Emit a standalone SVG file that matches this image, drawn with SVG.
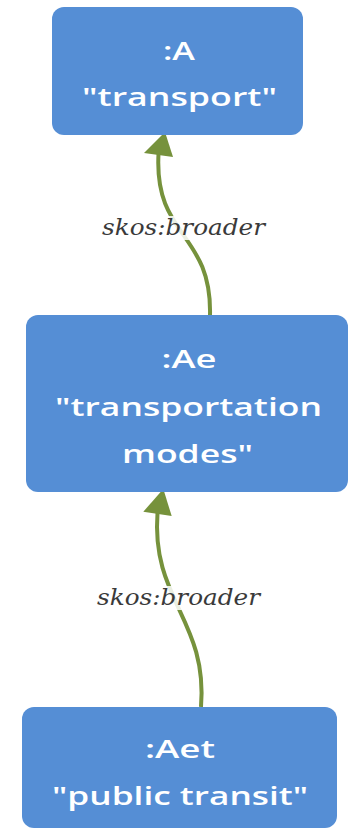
<svg xmlns="http://www.w3.org/2000/svg" width="349" height="830" viewBox="0 0 349 830">
<style>
.box{fill:#558ED5}
.nt{font-family:"Open Sans","Noto Sans",sans-serif;font-size:26px;font-weight:600;fill:#ffffff;text-anchor:middle}
.edge{fill:none;stroke:#76923C;stroke-width:4}
.head{fill:#76923C}
.lbg{fill:#ffffff;fill-opacity:0.85}
.lt{font-family:"DejaVu Serif",serif;font-style:italic;font-size:22px;fill:#3a3a3a;text-anchor:middle}
</style>
<rect width="349" height="830" fill="#ffffff"/>
<g id="connectors">
<path class="edge" d="M210,315 C212,232 154,238 158.5,154"/>
<polygon class="head" points="165,132 144,153 173,157"/>
<rect class="lbg" x="100" y="216" width="167" height="24"/>
<text class="lt" x="183.5" y="235" textLength="163" lengthAdjust="spacingAndGlyphs">skos:broader</text>
<path class="edge" d="M201,707 C208,620 151,600 157.5,513"/>
<polygon class="head" points="163.3,489 143.3,511.7 171.7,516"/>
<rect class="lbg" x="95" y="586" width="167" height="24"/>
<text class="lt" x="178.5" y="605" textLength="163" lengthAdjust="spacingAndGlyphs">skos:broader</text>
</g>
<g id="nodeA">
<rect class="box" x="52" y="7" width="251" height="128" rx="12"/>
<text class="nt" x="179" y="60" textLength="32" lengthAdjust="spacingAndGlyphs">:A</text>
<text class="nt" x="179.5" y="106" textLength="195" lengthAdjust="spacingAndGlyphs">"transport"</text>
</g>
<g id="nodeAe">
<rect class="box" x="26" y="315" width="322" height="177" rx="12"/>
<text class="nt" x="189" y="368" textLength="55" lengthAdjust="spacingAndGlyphs">:Ae</text>
<text class="nt" x="188.5" y="416" textLength="267" lengthAdjust="spacingAndGlyphs">"transportation</text>
<text class="nt" x="187.5" y="463" textLength="131" lengthAdjust="spacingAndGlyphs">modes"</text>
</g>
<g id="nodeAet">
<rect class="box" x="22" y="707" width="315" height="121" rx="12"/>
<text class="nt" x="180" y="758" textLength="70" lengthAdjust="spacingAndGlyphs">:Aet</text>
<text class="nt" x="180" y="805" textLength="256" lengthAdjust="spacingAndGlyphs">"public transit"</text>
</g>
</svg>
